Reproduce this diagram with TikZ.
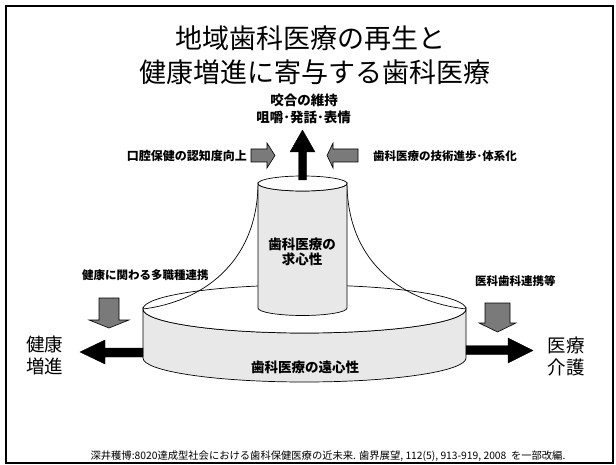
\documentclass[tikz,border=0pt]{standalone}
\usepackage{fontspec}
\setmainfont{Noto Sans CJK JP}
\begin{document}
\begin{tikzpicture}[x=1pt,y=-1pt,
  speck/.style={fill=black!9, draw=black, line width=0.7pt},
  topface/.style={fill=white, draw=black, line width=0.7pt},
  bell/.style={draw=black, line width=0.7pt},
  grayarrow/.style={fill=black!52, draw=black, line width=0.6pt},
  blackarrow/.style={fill=black, draw=black, line width=0.4pt},
  ttl/.style={font=\fontsize{27}{30}\selectfont, inner sep=0},
  lbl/.style={font=\bfseries\fontsize{12}{14}\selectfont, inner sep=0},
  big/.style={font=\fontsize{18.5}{22}\selectfont, inner sep=0, align=center},
  inlbl/.style={font=\bfseries\fontsize{13.5}{15}\selectfont, inner sep=0, align=center},
  cite/.style={font=\fontsize{10.3}{12}\selectfont, inner sep=0}
]
\useasboundingbox (0,0) rectangle (616,465);
% frame
\draw[line width=1.4pt] (6,6) rectangle (613,463);

% disc
\path[speck] (143,309) -- (143,358)
  arc[start angle=180, end angle=0, x radius=161.5, y radius=24]
  -- (466,309)
  arc[start angle=0, end angle=180, x radius=161.5, y radius=24] -- cycle;
\path[topface] (304.5,309) ellipse [x radius=161.5, y radius=24];

% bell curves
\coordinate (bl0) at (258,186);
\coordinate (bl1) at (143,309);
\coordinate (br0) at (347,186);
\coordinate (br1) at (466,309);
\draw[bell] (bl0) .. controls (256,265) and (200,302) .. (bl1);
\draw[bell] (br0) .. controls (349,265) and (405,302) .. (br1);

% cylinder
\path[speck] (258,183.5) -- (258,308)
  arc[start angle=180, end angle=0, x radius=44.5, y radius=7.5]
  -- (347,183.5)
  arc[start angle=0, end angle=180, x radius=44.5, y radius=7.5] -- cycle;
\path[topface] (302.5,183.5) ellipse [x radius=44.5, y radius=7.5];

% up arrow
\path[blackarrow] (298.5,180) -- (298.5,152) -- (290,152) -- (302.5,130)
  -- (315,152) -- (306.5,152) -- (306.5,180) -- cycle;

% gray arrows top
\path[grayarrow] (251,149) -- (267,149) -- (267,143) -- (275,155.5)
  -- (267,168) -- (267,162) -- (251,162) -- cycle;
\path[grayarrow] (358,149) -- (333,149) -- (333,143) -- (327,155.5)
  -- (333,168) -- (333,162) -- (358,162) -- cycle;

% gray arrows down
\path[grayarrow] (99,298) -- (119,298) -- (119,320) -- (129,320) -- (109,328)
  -- (89,320) -- (99,320) -- cycle;
\path[grayarrow] (485,303) -- (510,303) -- (510,323) -- (516,323) -- (497.5,332)
  -- (479,323) -- (485,323) -- cycle;

% black horizontal arrows
\path[blackarrow] (143,348) -- (105,348) -- (105,340) -- (80,352)
  -- (105,364) -- (105,357) -- (143,357) -- cycle;
\path[blackarrow] (466,345.5) -- (508,345.5) -- (508,338) -- (533,350.5)
  -- (508,363) -- (508,354.5) -- (466,354.5) -- cycle;

% texts
\node[ttl] (t1) at (310,38) {地域歯科医療の再生と};
\node[ttl] (t2) at (315,72) {健康増進に寄与する歯科医療};
\node[lbl, font=\bfseries\fontsize{13.5}{15}\selectfont] (k1) at (304,100) {咬合の維持};
\node[lbl, font=\bfseries\fontsize{13.5}{15}\selectfont] (k2) at (303.5,117) {咀嚼･発話･表情};
\node[lbl, anchor=east] (l1) at (247,156) {口腔保健の認知度向上};
\node[lbl, anchor=west, font=\bfseries\fontsize{11.5}{13}\selectfont] (r1) at (373,156) {歯科医療の技術進歩･体系化};
\node[inlbl] (c1) at (302,252) {歯科医療の\\求心性};
\node[lbl, anchor=west, font=\bfseries\fontsize{11.5}{13}\selectfont] (l2) at (82,275) {健康に関わる多職種連携};
\node[lbl, anchor=west, font=\bfseries\fontsize{11.5}{13}\selectfont] (r2) at (475,281) {医科歯科連携等};
\node[inlbl] (d1) at (305,367) {歯科医療の遠心性};
\node[big] (h1) at (45,355) {健康\\増進};
\node[big] (h2) at (566,356) {医療\\介護};
\node[cite] (ct) at (328,456) {深井穫博:8020達成型社会における歯科保健医療の近未来. 歯界展望, 112(5), 913-919, 2008\ \ を一部改編.};
\end{tikzpicture}
\end{document}
